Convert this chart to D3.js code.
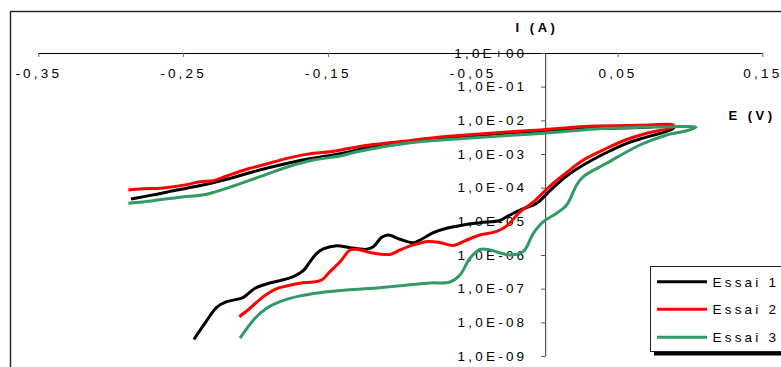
<!DOCTYPE html>
<html>
<head>
<meta charset="utf-8">
<script src="https://cdn.jsdelivr.net/npm/d3@7"></script>
<style>
  body { margin: 0; background: #fff; }
  svg { display: block; }
  text { font-family: "Liberation Sans", Arial, sans-serif; }
</style>
</head>
<body>
<svg id="chart" width="781" height="367"></svg>
<script>
// Tick values
const xTickValues = [-0.35, -0.25, -0.15, -0.05, 0.05, 0.15];
const yTickValues = [1e0, 1e-1, 1e-2, 1e-3, 1e-4, 1e-5, 1e-6, 1e-7, 1e-8, 1e-9];

// Series
const seriesNames = ["Essai 1", "Essai 2", "Essai 3"];
const seriesColors = ["#000000", "#ff0000", "#339966"];

// Essai 1 : potential (V) and current (A), forward scan then reverse scan
const potential1 = [-0.2425, -0.2349, -0.2268, -0.2199, -0.2095, -0.2061, -0.2003, -0.1923, -0.1831, -0.1739,
  -0.1670, -0.1624, -0.1577, -0.1532, -0.1439, -0.1347, -0.1232, -0.1186, -0.1128, -0.1083,
  -0.1002, -0.0910, -0.0841, -0.0772, -0.0680, -0.0565, -0.0450, -0.0312, -0.0265, -0.0173,
  -0.0058, 0.0034, 0.0149, 0.0264, 0.0425, 0.0564, 0.0655, 0.0885,
  0.0885, 0.0655, 0.0310, -0.0035, -0.0265, -0.0496, -0.0726, -0.0956, -0.1186, -0.1347,
  -0.1508, -0.1646, -0.1831, -0.2015, -0.2199, -0.2361, -0.2544, -0.2706, -0.2860];
const current1 = [3.1e-9, 9.4e-9, 2.8e-8, 4.1e-8, 5.2e-8, 6.5e-8, 1.03e-7, 1.38e-7, 1.73e-7, 2.27e-7,
  3.42e-7, 6.3e-7, 1.12e-6, 1.51e-6, 1.89e-6, 1.65e-6, 1.48e-6, 1.77e-6, 3.36e-6, 3.93e-6,
  2.93e-6, 2.32e-6, 3.14e-6, 4.6e-6, 6.2e-6, 7.8e-6, 9.1e-6, 1.06e-5, 1.37e-5, 2.17e-5,
  3.44e-5, 8.2e-5, 2.22e-4, 4.7e-4, 1.11e-3, 2.08e-3, 2.79e-3, 5.8e-3,
  6.6e-3, 6.1e-3, 5.7e-3, 4.8e-3, 4.2e-3, 3.43e-3, 2.89e-3, 2.2e-3, 1.73e-3, 1.17e-3,
  8.7e-4, 6.97e-4, 4.7e-4, 2.98e-4, 1.77e-4, 1.2e-4, 8.5e-5, 6.1e-5, 4.6e-5];

// Essai 2
const potential2 = [-0.2112, -0.2038, -0.1946, -0.1865, -0.1785, -0.1693, -0.1601, -0.1543, -0.1486, -0.1416,
  -0.1347, -0.1301, -0.1209, -0.1071, -0.1002, -0.0910, -0.0809, -0.0726, -0.0634, -0.0541,
  -0.0450, -0.0334, -0.0265, -0.0173, -0.0081, 0.0034, 0.0149, 0.0264, 0.0425, 0.0564,
  0.0702, 0.0885,
  0.0885, 0.0655, 0.0310, -0.0035, -0.0265, -0.0496, -0.0726, -0.0956, -0.1186, -0.1347,
  -0.1486, -0.1601, -0.1762, -0.1923, -0.2061, -0.2199, -0.2291, -0.2383, -0.2475, -0.2637,
  -0.2775, -0.2878];
const current2 = [1.47e-8, 2.62e-8, 5.8e-8, 9.6e-8, 1.2e-7, 1.45e-7, 1.58e-7, 1.81e-7, 3.2e-7, 6.3e-7,
  1.41e-6, 1.48e-6, 1.19e-6, 1.04e-6, 1.41e-6, 1.99e-6, 2.52e-6, 2.35e-6, 1.92e-6, 2.79e-6,
  3.93e-6, 5.0e-6, 7.3e-6, 1.9e-5, 3.76e-5, 1.12e-4, 2.82e-4, 6.6e-4, 1.48e-3, 2.7e-3,
  4.12e-3, 6.5e-3,
  7.3e-3, 7.1e-3, 6.65e-3, 5.2e-3, 4.5e-3, 3.8e-3, 3.2e-3, 2.43e-3, 1.91e-3, 1.48e-3,
  1.17e-3, 1.05e-3, 7.8e-4, 5.05e-4, 3.52e-4, 2.22e-4, 1.61e-4, 1.51e-4, 1.23e-4, 9.8e-5,
  9.3e-5, 8.5e-5];

// Essai 3
const potential3 = [-0.2107, -0.2003, -0.1923, -0.1831, -0.1693, -0.1555, -0.1370, -0.1140, -0.0979, -0.0795,
  -0.0657, -0.0588, -0.0519, -0.0450, -0.0381, -0.0243, -0.0151, -0.0081, -0.0012, 0.0080,
  0.0149, 0.0218, 0.0264, 0.0425, 0.0655, 0.0840, 0.0978, 0.1042,
  0.1023, 0.0885, 0.0425, -0.0035, -0.0541, -0.0956, -0.1301, -0.1416, -0.1601, -0.1785,
  -0.1969, -0.2153, -0.2337, -0.2521, -0.2706, -0.2878];
const current3 = [3.4e-9, 1.32e-8, 2.62e-8, 4.1e-8, 6.1e-8, 7.6e-8, 9.1e-8, 1.07e-7, 1.24e-7, 1.48e-7,
  1.58e-7, 2.55e-7, 8.0e-7, 1.46e-6, 1.41e-6, 1.0e-6, 1.26e-6, 4.4e-6, 9.8e-6, 1.73e-5,
  3.06e-5, 1.2e-4, 2.12e-4, 5.3e-4, 1.85e-3, 3.67e-3, 4.9e-3, 6.2e-3,
  6.5e-3, 6.5e-3, 5.8e-3, 4.06e-3, 2.93e-3, 2.08e-3, 1.17e-3, 8.7e-4, 6.6e-4, 4.03e-4,
  2.12e-4, 1.12e-4, 6.4e-5, 5.2e-5, 4.1e-5, 3.44e-5];

const potentials = [potential1, potential2, potential3];
const currents = [current1, current2, current3];

const svg = d3.select("#chart");

// Chart frame
svg.append("rect")
  .attr("x", 10.5).attr("y", 11.5)
  .attr("width", 800).attr("height", 400)
  .attr("fill", "#fff").attr("stroke", "#222").attr("stroke-width", 1.4);

const x = d3.scaleLinear().domain([-0.35, 0.15]).range([38.3, 762.3]);
const y = d3.scaleLog().domain([1, 1e-9]).range([53, 356]);

// Decimal comma and plain hyphen for negative values
const fmtX = d => d3.format(".2f")(d).replace(".", ",").replace("\u2212", "-");
const fmtY = d => {
  const e = Math.round(Math.log10(d));
  const sign = e < 0 ? "-" : "+";
  return "1,0E" + sign + String(Math.abs(e)).padStart(2, "0");
};

const LS = 3.2; // letter spacing in px

// Horizontal axis (E)
const gx = svg.append("g")
  .attr("transform", `translate(0,${y(1)})`)
  .call(d3.axisBottom(x).tickValues(xTickValues).tickFormat(fmtX).tickSize(4).tickSizeOuter(0).tickPadding(11));
gx.select(".domain").attr("stroke", "#000").attr("stroke-width", 1.2);
gx.selectAll(".tick line").attr("stroke", "#666");
gx.selectAll(".tick text")
  .attr("font-size", 13.5).attr("fill", "#000")
  .style("letter-spacing", LS + "px");

// Vertical axis (I)
const gy = svg.append("g")
  .attr("transform", `translate(${x(0)},0)`)
  .call(d3.axisLeft(y).tickValues(yTickValues).tickFormat(fmtY).tickSize(4).tickSizeOuter(0).tickPadding(17));
gy.select(".domain").attr("stroke", "#555").attr("stroke-width", 1.2);
gy.selectAll(".tick line").attr("stroke", "#555");
gy.selectAll(".tick text")
  .attr("font-size", 13.5).attr("fill", "#000")
  .style("letter-spacing", LS + "px")
  .attr("dx", LS);

// Axis titles
svg.append("text")
  .attr("x", 537).attr("y", 32)
  .attr("text-anchor", "middle")
  .attr("font-size", 13).attr("font-weight", "bold")
  .style("letter-spacing", "3.5px")
  .text("I (A)");
svg.append("text")
  .attr("x", 752).attr("y", 120)
  .attr("text-anchor", "middle")
  .attr("font-size", 13).attr("font-weight", "bold")
  .style("letter-spacing", "3.5px")
  .text("E (V)");

// Curves
const line = d3.line()
  .x(d => x(d[0]))
  .y(d => y(d[1]))
  .curve(d3.curveCatmullRom.alpha(0.5));

seriesNames.forEach((name, k) => {
  const pts = potentials[k].map((e, j) => [e, currents[k][j]]);
  svg.append("path")
    .datum(pts)
    .attr("d", line)
    .attr("fill", "none")
    .attr("stroke", seriesColors[k])
    .attr("stroke-width", 3)
    .attr("stroke-linejoin", "round")
    .attr("stroke-linecap", "butt");
});

// Legend
const lg = svg.append("g");
lg.append("rect")
  .attr("x", 654).attr("y", 270.5).attr("width", 140).attr("height", 85)
  .attr("fill", "#000");
lg.append("rect")
  .attr("x", 650.5).attr("y", 266.5).attr("width", 140).attr("height", 85)
  .attr("fill", "#fff").attr("stroke", "#222").attr("stroke-width", 1);
const legendY = [281.7, 309.3, 337.3];
seriesNames.forEach((name, k) => {
  lg.append("line")
    .attr("x1", 657).attr("x2", 707)
    .attr("y1", legendY[k]).attr("y2", legendY[k])
    .attr("stroke", seriesColors[k]).attr("stroke-width", 3);
  lg.append("text")
    .attr("x", 712.5).attr("y", legendY[k]).attr("dy", "0.36em")
    .attr("font-size", 13.5).attr("fill", "#000")
    .style("letter-spacing", LS + "px")
    .text(name);
});
</script>
</body>
</html>
